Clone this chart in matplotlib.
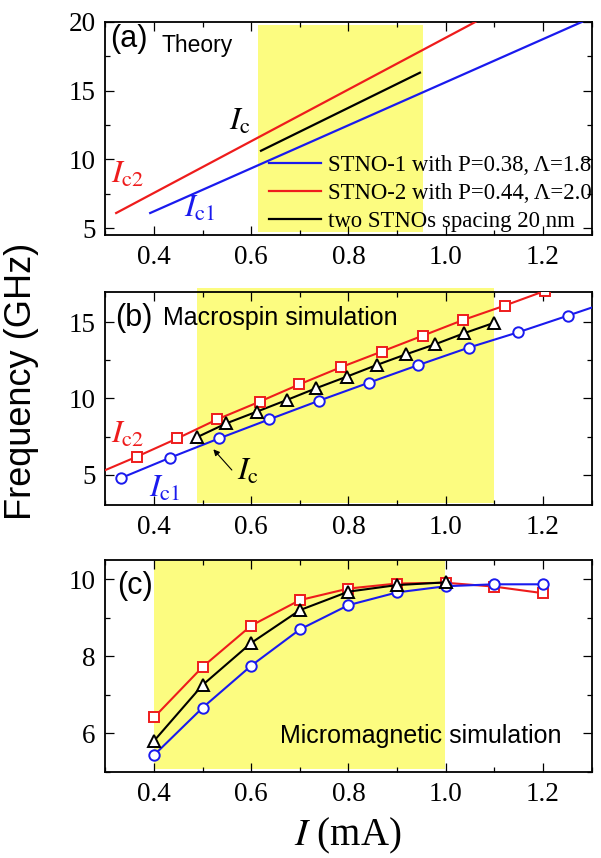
import matplotlib
matplotlib.use("Agg")
import matplotlib.pyplot as plt
from matplotlib.patches import Rectangle
from matplotlib.lines import Line2D
from matplotlib.ticker import MultipleLocator

plt.rcParams['font.family'] = ['Liberation Serif', 'DejaVu Serif']
plt.rcParams['mathtext.fontset'] = 'stix'

RED = '#ee1c1c'
BLUE = '#1a1aee'
BLACK = '#000000'
YELLOW = '#fcfc80'
SANS = ['Liberation Sans', 'DejaVu Sans']

# ---------------- data ----------------
# panel (a) theory lines (end points)
a_blue_x = [0.392, 1.28]
a_blue_y = [6.1, 20.0]
a_red_x = [0.322, 1.061]
a_red_y = [6.1, 20.0]
a_black_x = [0.62, 0.947]
a_black_y = [10.63, 16.31]
a_labels = ['STNO-1 with P=0.38, \u039b=1.8',
            'STNO-2 with P=0.44, \u039b=2.0',
            'two STNOs spacing 20 nm']
a_band_x = [0.614, 0.953]
a_band_y = [4.72, 19.78]

# panel (b) macrospin simulation
b_red_x = [0.364, 0.448, 0.530, 0.617, 0.699, 0.784, 0.868, 0.953, 1.036, 1.121, 1.204]
b_red_y = [6.17, 7.38, 8.63, 9.79, 10.93, 12.05, 13.08, 14.13, 15.16, 16.10, 17.07]
b_blue_x = [0.331, 0.433, 0.534, 0.637, 0.739, 0.842, 0.944, 1.047, 1.149, 1.251]
b_blue_y = [4.76, 6.11, 7.38, 8.63, 9.85, 11.04, 12.20, 13.34, 14.35, 15.44]
b_black_x = [0.488, 0.549, 0.611, 0.673, 0.733, 0.796, 0.858, 0.918, 0.978, 1.038, 1.100]
b_black_y = [7.45, 8.37, 9.13, 9.90, 10.67, 11.43, 12.20, 12.90, 13.56, 14.29, 14.98]
# where the red and blue guide lines run past the first / last symbols
b_red_start = (0.30, 5.30)
b_red_end = (1.25, 17.6)
b_blue_end = (1.30, 15.97)
b_band_x = [0.488, 1.099]
b_band_y = [3.13, 17.26]

# panel (c) micromagnetic simulation
c_x = [0.4, 0.5, 0.6, 0.7, 0.8, 0.9, 1.0, 1.1, 1.2]
c_red_y = [6.42, 7.73, 8.80, 9.46, 9.76, 9.89, 9.91, 9.81, 9.64]
c_blue_y = [5.44, 6.67, 7.76, 8.70, 9.33, 9.66, 9.82, 9.87, 9.87]
c_black_x = [0.4, 0.5, 0.6, 0.7, 0.8, 0.9, 1.0]
c_black_y = [5.81, 7.26, 8.35, 9.20, 9.68, 9.85, 9.92]
c_band_x = [0.40, 0.998]
c_band_y = [5.08, 10.5]

xticks = [0.4, 0.6, 0.8, 1.0, 1.2]
xticklabels = ['0.4', '0.6', '0.8', '1.0', '1.2']

# ---------------- figure ----------------
fig = plt.figure(figsize=(6.01, 8.58), dpi=100)
L, W = 0.1755, 0.8087
axA = fig.add_axes([L, 0.7261, W, 0.2483])
axB = fig.add_axes([L, 0.4114, W, 0.2483])
axC = fig.add_axes([L, 0.1002, W, 0.2471])


def style(ax, ylim, ymaj, ymin):
    ax.set_xlim(0.3, 1.3)
    ax.set_ylim(*ylim)
    ax.set_xticks(xticks)
    ax.set_xticklabels(xticklabels)
    ax.xaxis.set_minor_locator(MultipleLocator(0.1))
    ax.yaxis.set_major_locator(MultipleLocator(ymaj))
    ax.yaxis.set_minor_locator(MultipleLocator(ymin))
    ax.tick_params(which='both', direction='in', top=True, right=True,
                   labelsize=19.5, pad=7, width=0.9)
    ax.tick_params(which='major', length=6.5)
    ax.tick_params(which='minor', length=3.4)
    for s in ax.spines.values():
        s.set_linewidth(1.3)


def band(ax, bx, by, clip=True):
    r = Rectangle((bx[0], by[0]), bx[1] - bx[0], by[1] - by[0],
                  facecolor=YELLOW, edgecolor='none', zorder=0.5, clip_on=clip)
    ax.add_patch(r)


mk = dict(markerfacecolor='white', markeredgewidth=1.4, linestyle='none', zorder=4)
LBL = 23
PANEL = 22

# ----- (a) -----
style(axA, (4.5, 20), 5, 2.5)
band(axA, a_band_x, a_band_y)
axA.plot(a_blue_x, a_blue_y, color=BLUE, lw=1.6, zorder=3)
axA.plot(a_red_x, a_red_y, color=RED, lw=1.6, zorder=3)
axA.plot(a_black_x, a_black_y, color=BLACK, lw=1.6, zorder=3)
handles = [Line2D([], [], color=BLUE, lw=1.6),
           Line2D([], [], color=RED, lw=1.6),
           Line2D([], [], color=BLACK, lw=1.6)]
axA.legend(handles, a_labels, loc='center left', bbox_to_anchor=(0.336, 0.196),
           frameon=False, fontsize=16.4, handlelength=2.3, handletextpad=0.28,
           labelspacing=0.3, borderpad=0, borderaxespad=0)
axA.text(0.009, 0.99, '(a)', transform=axA.transAxes, fontsize=PANEL,
         family=SANS, va='top', ha='left')
axA.text(0.116, 0.945, 'Theory', transform=axA.transAxes, fontsize=16.5,
         family=SANS, va='top', ha='left')
axA.text(0.312, 8.28, r'$I_{\rm c2}$', color=RED, fontsize=LBL, va='baseline')
axA.text(0.462, 5.81, r'$I_{\rm c1}$', color=BLUE, fontsize=LBL, va='baseline')
axA.text(0.554, 12.14, r'$I_{\rm c}$', color=BLACK, fontsize=LBL, va='baseline')

# ----- (b) -----
style(axB, (3, 17), 5, 2.5)
band(axB, b_band_x, b_band_y, clip=False)
axB.plot([b_red_start[0]] + b_red_x + [b_red_end[0]],
         [b_red_start[1]] + b_red_y + [b_red_end[1]], color=RED, lw=1.5, zorder=3)
axB.plot(b_blue_x + [b_blue_end[0]], b_blue_y + [b_blue_end[1]],
         color=BLUE, lw=1.5, zorder=3)
axB.plot(b_black_x, b_black_y, color=BLACK, lw=1.5, zorder=3)
axB.plot(b_red_x, b_red_y, marker='s', markersize=6.5, markeredgecolor=RED, **mk)
axB.plot(b_blue_x, b_blue_y, marker='o', markersize=7.5, markeredgecolor=BLUE, **mk)
axB.plot(b_black_x, b_black_y, marker='^', markersize=8.5, markeredgecolor=BLACK, **mk)
axB.text(0.0195, 0.95, '(b)', transform=axB.transAxes, fontsize=PANEL,
         family=SANS, va='top', ha='left')
axB.text(0.118, 0.935, 'Macrospin simulation', transform=axB.transAxes,
         fontsize=18, family=SANS, va='top', ha='left')
axB.text(0.312, 7.09, r'$I_{\rm c2}$', color=RED, fontsize=LBL, va='baseline')
axB.text(0.389, 3.55, r'$I_{\rm c1}$', color=BLUE, fontsize=LBL, va='baseline')
axB.text(0.571, 4.64, r'$I_{\rm c}$', color=BLACK, fontsize=LBL, va='baseline')
axB.annotate('', xy=(0.522, 6.66), xytext=(0.560, 5.30),
             arrowprops=dict(arrowstyle='-|>', color=BLACK, lw=0.8,
                             mutation_scale=9, shrinkA=0, shrinkB=0))

# ----- (c) -----
style(axC, (5, 10.5), 2, 1)
band(axC, c_band_x, c_band_y)
axC.plot(c_x, c_red_y, color=RED, lw=1.5, marker='s', markersize=6.5,
         markeredgecolor=RED, markerfacecolor='white', markeredgewidth=1.4, zorder=3)
axC.plot(c_x, c_blue_y, color=BLUE, lw=1.5, marker='o', markersize=7.5,
         markeredgecolor=BLUE, markerfacecolor='white', markeredgewidth=1.4, zorder=3.2)
axC.plot(c_black_x, c_black_y, color=BLACK, lw=1.5, marker='^', markersize=8.5,
         markeredgecolor=BLACK, markerfacecolor='white', markeredgewidth=1.4, zorder=3.4)
axC.text(0.024, 0.95, '(c)', transform=axC.transAxes, fontsize=PANEL,
         family=SANS, va='top', ha='left')
axC.text(0.659, 5.75, 'Micromagnetic simulation', fontsize=18, family=SANS,
         va='baseline', ha='left')

# ----- shared labels -----
fig.text(0.0366, 0.556, 'Frequency (GHz)', rotation=90, ha='center', va='center',
         fontsize=26, family=SANS)
fig.text(0.578, 0.0256, r'$I$ (mA)', ha='center', va='center', fontsize=28)

fig.savefig('out.png', dpi=100)
